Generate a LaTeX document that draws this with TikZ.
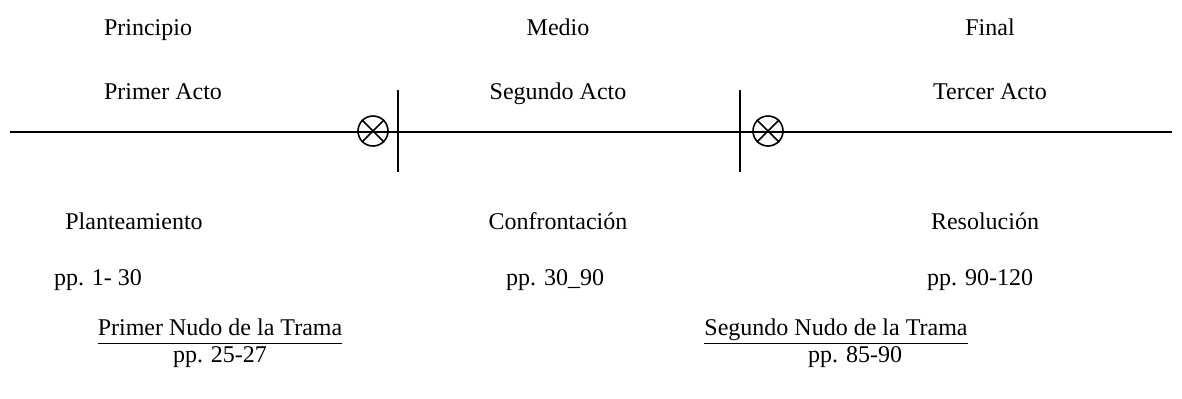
\documentclass[tikz,border=0pt]{standalone}
\usepackage{fontspec}
\setmainfont{Liberation Serif}
\begin{document}
\begin{tikzpicture}[x=0.5pt, y=-0.5pt, font=\fontsize{12}{14}\selectfont]
\def\txt{node [inner sep = 0, anchor = base] }
\def\cross{node [circle, draw, thick, inner sep = 0, minimum size = 15pt] }
\useasboundingbox (0,0) rectangle (1182,398);

\draw (148, 35) \txt (t1) {Principio};
\draw (558, 35) \txt (t2) {Medio};
\draw (990, 35) \txt (t3) {Final};

\draw (163, 99) \txt (a1) {Primer Acto};
\draw (558, 99) \txt (a2) {Segundo Acto};
\draw (990, 99) \txt (a3) {Tercer Acto};

\draw (134, 229) \txt (p1) {Planteamiento};
\draw (558, 229) \txt (p2) {Confrontación};
\draw (985, 229) \txt (p3) {Resolución};

\draw (98, 285) \txt (n1) {pp. 1- 30};
\draw (555, 285) \txt (n2) {pp. 30\_90};
\draw (980, 285) \txt (n3) {pp. 90-120};

\draw (220, 335) \txt (k1) {\underline{Primer Nudo de la Trama\vphantom{g}}};
\draw (220, 362) \txt (q1) {pp. 25-27};
\draw (836, 335) \txt (k2) {\underline{Segundo Nudo de la Trama\vphantom{g}}};
\draw (855, 362) \txt (q2) {pp. 85-90};

\coordinate (l) at (10, 132);
\coordinate (r) at (1172, 132);
\coordinate (v1t) at (398, 90);
\coordinate (v1b) at (398, 172);
\coordinate (v2t) at (740, 90);
\coordinate (v2b) at (740, 172);
\draw (373, 131) \cross (x1) {};
\draw (768, 131) \cross (x2) {};

\draw [line width = 1pt] (l) -- (r);
\draw [line width = 1pt] (v1t) -- (v1b);
\draw [line width = 1pt] (v2t) -- (v2b);
\draw [thick] (x1.north west) -- (x1.south east);
\draw [thick] (x1.north east) -- (x1.south west);
\draw [thick] (x2.north west) -- (x2.south east);
\draw [thick] (x2.north east) -- (x2.south west);
\end{tikzpicture}
\end{document}
